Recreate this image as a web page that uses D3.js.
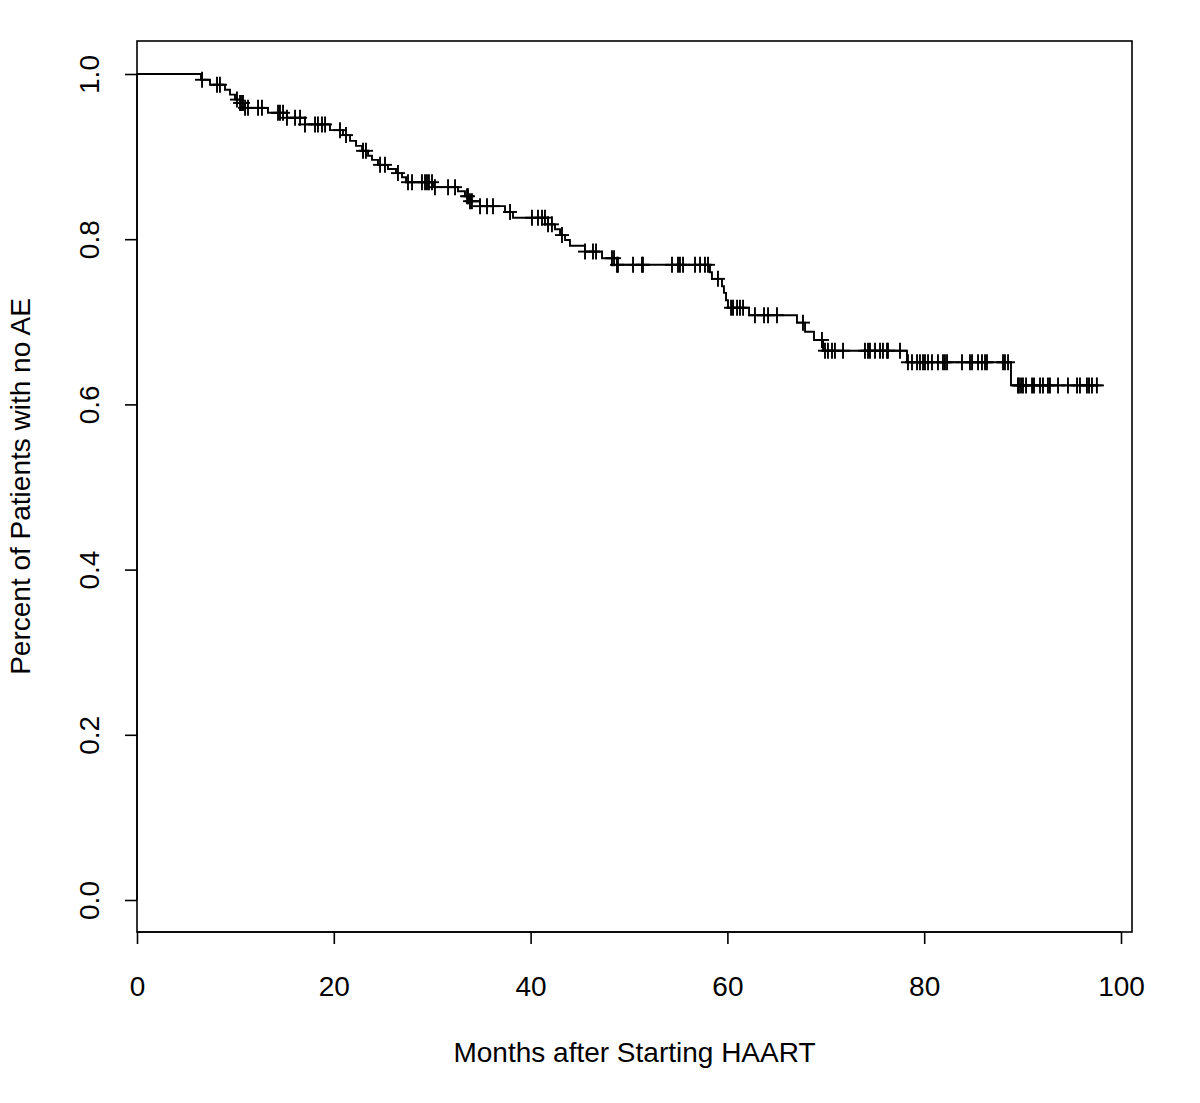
<!DOCTYPE html>
<html>
<head>
<meta charset="utf-8">
<script src="https://cdn.jsdelivr.net/npm/d3@7"></script>
<style>
  html, body { margin: 0; padding: 0; background: #fff; }
  svg { display: block; }
  text { font-family: "Liberation Sans", Arial, Helvetica, sans-serif; fill: #000; }
</style>
</head>
<body>
<svg id="chart" width="1200" height="1103"></svg>
<script>
// ---- Data (Kaplan-Meier estimate, months after starting HAART) ----
const eventTimes = [6.50, 7.42, 8.94, 9.45, 9.96, 10.47, 10.98, 13.31, 15.24, 17.07, 19.61, 20.93,
  21.65, 22.26, 22.87, 23.48, 23.88, 24.49, 25.51, 26.32, 26.93, 27.34, 30.08, 32.62, 33.33, 33.84,
  34.86, 37.40, 38.21, 41.77, 42.48, 42.99, 43.50, 44.00, 45.53, 47.26, 48.78, 58.23, 58.43, 59.45,
  59.65, 59.86, 60.06, 62.20, 67.07, 67.89, 68.80, 69.72, 78.25, 88.82];
const survival = [0.993, 0.987, 0.981, 0.975, 0.969, 0.965, 0.959, 0.953, 0.947, 0.939, 0.932, 0.926,
  0.919, 0.913, 0.907, 0.901, 0.896, 0.890, 0.885, 0.880, 0.875, 0.869, 0.863, 0.858, 0.852, 0.846,
  0.840, 0.833, 0.826, 0.818, 0.812, 0.805, 0.799, 0.792, 0.785, 0.777, 0.769, 0.760, 0.752, 0.743,
  0.735, 0.726, 0.717, 0.708, 0.699, 0.688, 0.678, 0.665, 0.651, 0.623];
const censorTimes = [6.61, 8.13, 8.43, 10.16, 10.47, 10.67, 10.77, 10.98, 11.28, 12.30, 12.70, 14.33,
  14.53, 14.84, 15.24, 16.06, 16.57, 17.07, 18.09, 18.39, 18.80, 19.11, 20.63, 21.24, 22.97, 23.27,
  24.70, 25.20, 26.52, 27.54, 27.95, 28.96, 29.27, 29.47, 29.67, 29.98, 30.28, 31.61, 32.32, 33.54,
  33.64, 33.84, 34.04, 34.86, 35.57, 36.18, 37.91, 40.14, 40.75, 41.16, 41.46, 41.77, 42.17, 43.19,
  45.53, 46.34, 46.65, 48.27, 48.48, 48.78, 48.88, 50.41, 51.32, 51.42, 54.37, 54.98, 55.18, 55.49,
  56.71, 57.22, 57.72, 58.03, 59.04, 60.37, 60.57, 60.98, 61.28, 61.59, 62.80, 63.72, 64.13, 65.04,
  67.68, 69.61, 69.92, 70.22, 70.63, 70.93, 71.75, 73.98, 74.29, 74.49, 75.00, 75.51, 75.81, 76.22,
  76.32, 77.54, 78.35, 78.76, 79.27, 79.57, 79.88, 80.08, 80.39, 80.79, 81.40, 81.91, 82.11, 82.32,
  83.84, 84.65, 84.86, 85.47, 85.87, 86.18, 86.38, 88.01, 88.21, 88.52, 89.53, 89.63, 89.84, 90.04,
  90.35, 90.96, 91.16, 91.77, 92.07, 92.58, 92.78, 93.60, 94.61, 95.53, 95.83, 96.54, 96.75, 97.05,
  97.55];
const followUpEnd = [98.1];
const xTicks = [0, 20, 40, 60, 80, 100];
const yTicks = [0.0, 0.2, 0.4, 0.6, 0.8, 1.0];
const xTitle = ["Months after Starting HAART"];
const yTitle = ["Percent of Patients with no AE"];

// ---- Layout ----
const box = { left: 137, right: 1132, top: 41, bottom: 932 };
const x = d3.scaleLinear().domain([0, 100]).range([137, 1121]);
const y = d3.scaleLinear().domain([0, 1]).range([900, 74]);

const svg = d3.select("#chart");
const FS = 28;

// Plot box
svg.append("rect")
  .attr("x", box.left).attr("y", box.top)
  .attr("width", box.right - box.left).attr("height", box.bottom - box.top)
  .attr("fill", "none").attr("stroke", "#000").attr("stroke-width", 1.6);

// X axis
const xAxis = d3.axisBottom(x).tickValues(xTicks).tickSize(12).tickPadding(30)
  .tickFormat(d3.format("d"));
const gx = svg.append("g").attr("transform", `translate(0,${box.bottom})`).call(xAxis);
gx.select(".domain").attr("stroke", "#000").attr("stroke-width", 1.6).attr("d", `M${x(0)},0H${x(100)}`);
gx.selectAll(".tick line").attr("stroke", "#000").attr("stroke-width", 1.6);
gx.selectAll(".tick text").attr("font-size", FS).attr("font-family", "Liberation Sans, Arial, sans-serif")
  .attr("fill", "#000").attr("dy", "0.35em").attr("y", 54);

// Y axis
const yAxis = d3.axisLeft(y).tickValues(yTicks).tickSize(12).tickFormat(d3.format(".1f"));
const gy = svg.append("g").attr("transform", `translate(${box.left},0)`).call(yAxis);
gy.select(".domain").attr("stroke", "#000").attr("stroke-width", 1.6).attr("d", `M0,${y(0)}V${y(1)}`);
gy.selectAll(".tick line").attr("stroke", "#000").attr("stroke-width", 1.6);
gy.selectAll(".tick text").remove();
gy.selectAll(".tick").append("text")
  .attr("transform", "translate(-48,0) rotate(-90)")
  .attr("text-anchor", "middle").attr("dy", "0.35em")
  .attr("font-size", FS).attr("font-family", "Liberation Sans, Arial, sans-serif").attr("fill", "#000")
  .text(d => d3.format(".1f")(d));

// Titles
svg.append("text").attr("x", (box.left + box.right) / 2).attr("y", 1052)
  .attr("text-anchor", "middle").attr("dy", "0.35em").attr("font-size", FS).text(xTitle[0]);
svg.append("text")
  .attr("transform", `translate(20,${(box.top + box.bottom) / 2}) rotate(-90)`)
  .attr("text-anchor", "middle").attr("dy", "0.35em").attr("font-size", FS).text(yTitle[0]);

// KM step curve
const steps = [[0, 1]];
let prev = 1;
eventTimes.forEach((t, i) => {
  steps.push([t, prev]);
  steps.push([t, survival[i]]);
  prev = survival[i];
});
steps.push([followUpEnd[0], prev]);

svg.append("path")
  .datum(steps)
  .attr("d", d3.line().x(d => x(d[0])).y(d => y(d[1])))
  .attr("fill", "none").attr("stroke", "#000").attr("stroke-width", 1.9);

// survival at time t (right-continuous)
function survAt(t) {
  let s = 1;
  for (let i = 0; i < eventTimes.length; i++) {
    if (eventTimes[i] <= t) s = survival[i]; else break;
  }
  return s;
}

// Censor marks (+)
const marks = svg.append("g").attr("stroke", "#000").attr("stroke-width", 1.9);
censorTimes.forEach(t => {
  const cx = x(t), cy = y(survAt(t));
  marks.append("line").attr("x1", cx).attr("x2", cx).attr("y1", cy - 8).attr("y2", cy + 8);
  marks.append("line").attr("x1", cx - 7).attr("x2", cx + 7).attr("y1", cy).attr("y2", cy);
});
</script>
</body>
</html>
